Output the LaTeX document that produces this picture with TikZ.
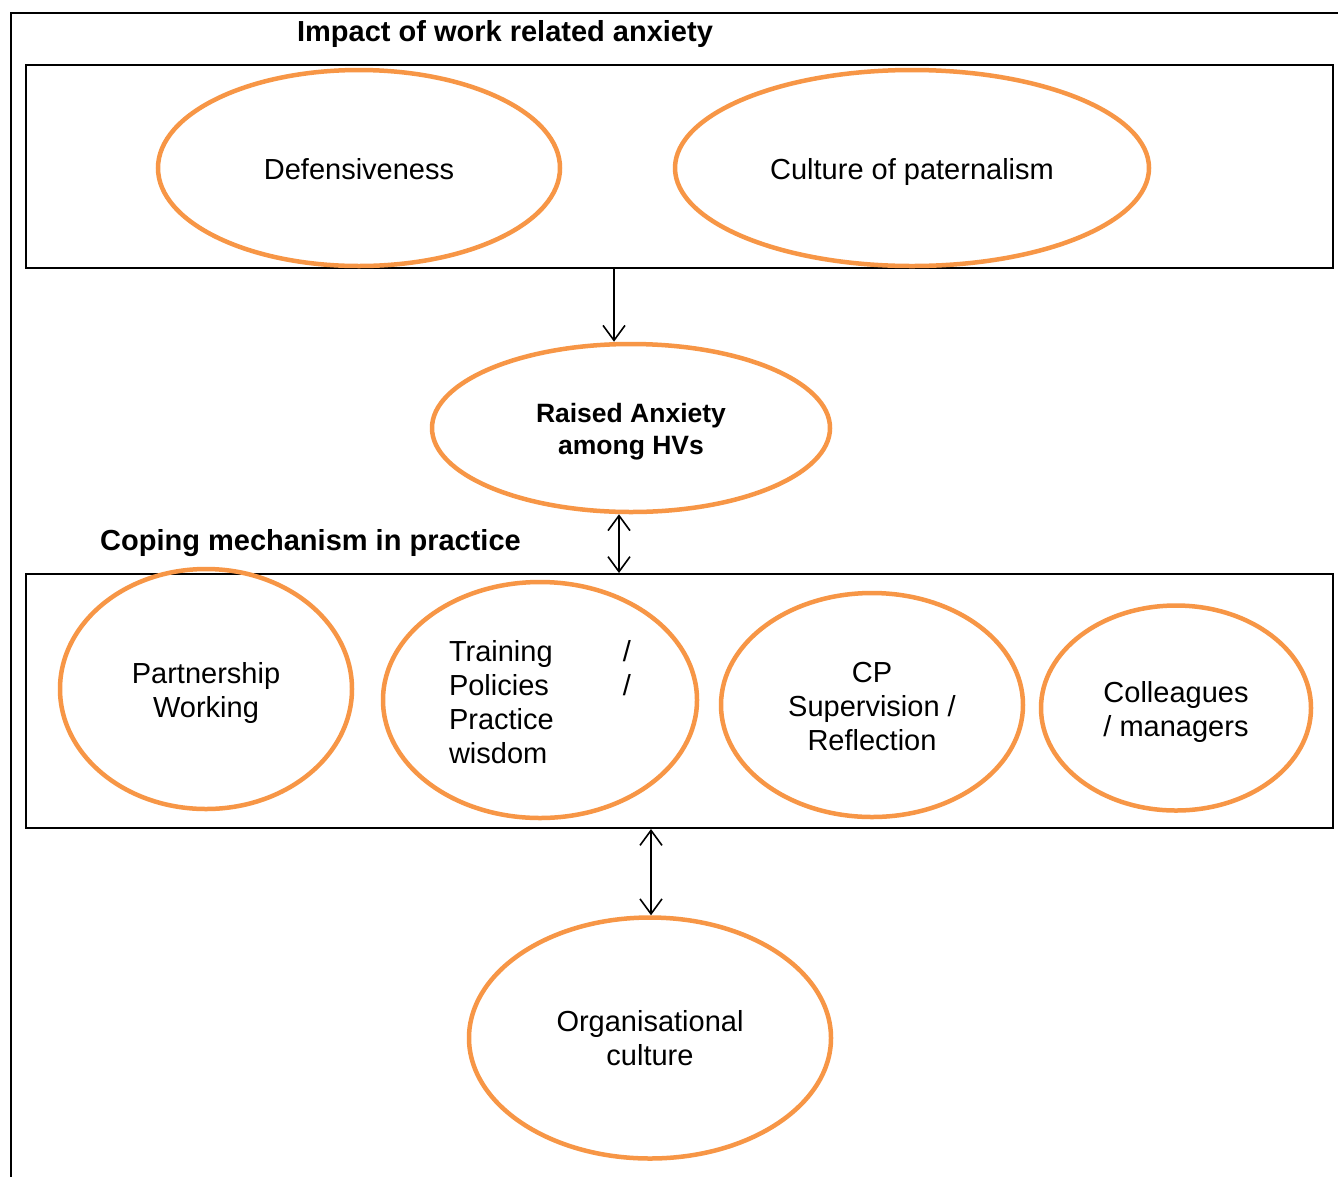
\documentclass[tikz,border=0pt]{standalone}
\usepackage{fontspec}
\setmainfont{Liberation Sans}
\usetikzlibrary{shapes.geometric,arrows.meta}
\definecolor{ovalorange}{HTML}{F79646}
\tikzset{
  oval/.style={ellipse, draw=ovalorange, line width=4.5pt, inner sep=0pt},
  ovaltext/.style={inner sep=0pt, align=center, font=\fontsize{29}{34}\selectfont},
  panel/.style={rectangle, draw=black, line width=2pt, inner sep=0pt},
  heading/.style={font=\fontsize{29}{34}\selectfont\bfseries, inner sep=0pt},
  barb/.tip={Straight Barb[length=15pt,width=22pt,line width=1.6pt]},
  arr/.style={line width=1.6pt, -barb},
  darr/.style={line width=1.6pt, barb-barb}
}
\begin{document}
\begin{tikzpicture}[x=1pt,y=-1pt]
\useasboundingbox (0,0) rectangle (1338,1176);
\clip (0,0) rectangle (1338,1176);
\fill[white] (0,0) rectangle (1338,1176);

% outer frame, running off the right and bottom edges
\draw[line width=2pt] (11,1200) -- (11,13) -- (1360,13);

% upper panel: impact of work related anxiety
\node[heading] (t1) at (505,34) {Impact of work related anxiety};
\node[panel, minimum width=1307pt, minimum height=203pt] (box1) at (679.5,166.5) {};
\node[oval, minimum width=402pt, minimum height=196pt] (def) at (359,168) {};
\node[ovaltext] (def-t) at ([yshift=-1pt]def.center) {Defensiveness};
\node[oval, minimum width=474pt, minimum height=196pt] (cult) at (912,168) {};
\node[ovaltext] (cult-t) at ([yshift=-4pt]cult.center) {Culture of paternalism};

% central oval
\node[oval, minimum width=398pt, minimum height=168pt] (raised) at (631,428) {};
\node[ovaltext, font=\fontsize{26.5}{32}\selectfont\bfseries] (raised-t) at ([yshift=-4pt]raised.center)
  {Raised Anxiety\\among HVs};

% lower panel: coping mechanism in practice
\node[heading, anchor=west] (t2) at (100,543) {Coping mechanism in practice};
\node[panel, minimum width=1307pt, minimum height=254pt] (box2) at (679.5,701) {};
\node[oval, minimum width=292pt, minimum height=240pt] (part) at (206,689) {};
\node[ovaltext] (part-t) at ([yshift=-4pt]part.center) {Partnership\\Working};
\node[oval, minimum width=314pt, minimum height=236pt] (train) at (540,700) {};
\node[ovaltext, align=left, text width=182pt] (train-t) at ([yshift=-2pt]train.center)
  {Training\hfill/\\Policies\hfill/\\Practice\\wisdom};
\node[oval, minimum width=302pt, minimum height=224pt] (cp) at (872,705) {};
\node[ovaltext] (cp-t) at ([yshift=-2pt]cp.center) {CP\\Supervision /\\Reflection};
\node[oval, minimum width=270pt, minimum height=205pt] (coll) at (1176,708) {};
\node[ovaltext] (coll-t) at ([yshift=-4pt]coll.center) {Colleagues\\/ managers};

% bottom oval
\node[oval, minimum width=362pt, minimum height=241pt] (org) at (650,1038) {};
\node[ovaltext] (org-t) at (org.center) {Organisational\\culture};

% connectors
\coordinate (xa) at (614,0);
\coordinate (xb) at (619,0);
\coordinate (xc) at (651,0);
\draw[arr] (box1.south -| xa) -- (raised.north -| xa);
\draw[darr] (raised.south -| xb) -- (box2.north -| xb);
\draw[darr] (box2.south -| xc) -- (org.north -| xc);
\end{tikzpicture}
\end{document}
